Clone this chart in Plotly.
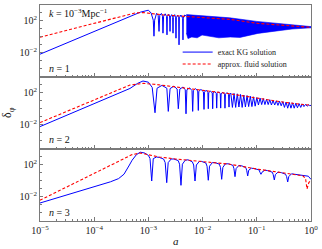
import plotly.graph_objects as go
from plotly.subplots import make_subplots

# ---------------- data (log10 a, log10 delta) ----------------
# panel n=1
n1_kg_loga = [-5.0, -4.0, -3.3, -3.15, -3.0, -2.95, -2.91, -2.897, -2.885, -2.85, -2.82, -2.804, -2.79,
              -2.76, -2.74, -2.731, -2.72, -2.69, -2.665, -2.657, -2.65, -2.625, -2.607, -2.601, -2.595,
              -2.57, -2.552, -2.546, -2.54, -2.515, -2.497, -2.491, -2.485, -2.46, -2.441, -2.435, -2.429,
              -2.40, -2.368, -2.362, -2.356, -2.33, -2.30]
n1_kg_logd = [-2.25, 0.55, 2.5, 3.0, 3.25, 2.9, 2.0, 0.0, 2.0, 2.85, 2.6, 0.6, 2.6,
              2.85, 2.5, 0.38, 2.5, 2.8, 2.45, 0.17, 2.45, 2.75, 2.4, 0.6, 2.4,
              2.7, 2.35, 0.38, 2.35, 2.7, 2.3, -0.25, 2.3, 2.65, 2.3, -1.08, 2.3,
              2.65, 2.25, -0.46, 2.25, 2.65, 2.5]
# envelope of the densely oscillating part (upper edge then lower edge back)
n1_band_loga = [-2.30, -2.1, -1.9, -1.5, -1.0, -0.35, 0.0,
                0.0, -0.35, -0.7, -0.98, -1.31, -1.49, -1.7, -1.86, -2.01, -2.10, -2.20, -2.27, -2.30]
n1_band_logd = [2.7, 2.6, 2.5, 2.3, 1.85, 1.4, 1.2,
                1.05, 0.9, 0.6, 0.35, -0.15, -0.1, -0.2, -0.05, 0.15, -0.2, -0.1, -0.3, 0.4]
n1_fl_loga = [-5.0, -3.25, -3.1, -2.73, -2.10, -1.49, -0.98, -0.35, 0.0]
n1_fl_logd = [-0.12, 2.9, 2.95, 2.67, 2.37, 2.1, 1.6, 1.25, 1.1]

# panel n=2
n2_kg_loga = [-5.0, -4.0, -3.34, -3.2, -3.1, -3.0, -2.93, -2.878, -2.84, -2.75, -2.66, -2.633, -2.60,
              -2.53, -2.47, -2.448, -2.42, -2.36, -2.32, -2.306, -2.29, -2.24, -2.195, -2.183, -2.17,
              -2.13, -2.09, -2.079, -2.07, -2.03, -1.985, -1.974, -1.965, -1.935, -1.903, -1.895, -1.887,
              -1.855, -1.822, -1.814, -1.806, -1.777, -1.748, -1.740, -1.732, -1.703, -1.674, -1.666,
              -1.658, -1.627, -1.595, -1.587, -1.579, -1.55, -1.521, -1.513, -1.505,
              -1.48, -1.45, -1.42, -1.39, -1.36, -1.33, -1.30, -1.27, -1.24, -1.21, -1.18, -1.15,
              -1.12, -1.09, -1.06, -1.03, -1.00, -0.97, -0.94, -0.91, -0.88, -0.85, -0.82, -0.79,
              -0.76, -0.73, -0.70, -0.67, -0.64, -0.61, -0.58, -0.55, -0.52, -0.49, -0.46, -0.43,
              -0.40, -0.37, -0.34, -0.31, -0.28, -0.25, -0.22, -0.19, -0.16, -0.13, -0.10, -0.07,
              -0.04, -0.02, 0.0]
n2_kg_logd = [-2.3, 0.6, 2.47, 3.1, 3.4, 3.25, 2.6, -0.57, 2.5, 2.85, 2.5, -0.4, 2.45,
              2.75, 2.4, -0.07, 2.4, 2.65, 2.3, -0.7, 2.3, 2.55, 2.2, -0.4, 2.2,
              2.45, 2.15, -0.28, 2.1, 2.35, 2.05, -0.15, 2.0, 2.25, 2.0, -0.07, 1.95,
              2.15, 1.9, -0.07, 1.9, 2.1, 1.85, 0.01, 1.85, 2.05, 1.8, 0.01,
              1.8, 2.0, 1.75, 0.0, 1.75, 1.95, 1.7, 0.14, 1.7,
              1.9, 0.1, 1.85, 0.1, 1.8, 0.15, 1.72, 0.1, 1.65, 0.15, 1.58, 0.2,
              1.5, 0.2, 1.42, 0.25, 1.33, 0.4, 1.27, 0.45, 1.2, 0.45, 1.12, 0.45,
              1.06, 0.4, 0.98, 0.4, 0.92, 0.35, 0.87, 0.3, 0.82, 0.1, 0.77, 0.0,
              0.72, 0.0, 0.67, 0.0, 0.62, 0.05, 0.57, 0.1, 0.53, 0.2, 0.48, 0.25,
              0.44, 0.3, 0.38]
n2_fl_loga = [-5.0, -3.34, -3.1, -2.9, -2.6, -2.2, -1.9, -1.5, -1.0, -0.5, -0.2, 0.0]
n2_fl_logd = [-1.8, 2.9, 3.1, 3.0, 2.75, 2.45, 2.15, 1.8, 1.25, 0.75, 0.5, 0.38]

# panel n=3
n3_kg_loga = [-5.0, -4.0, -3.7, -3.55, -3.45, -3.35, -3.3, -3.22, -3.15, -3.07, -3.0, -2.97, -2.939,
              -2.91, -2.85, -2.80, -2.72, -2.69, -2.662, -2.635, -2.58, -2.53, -2.45, -2.425, -2.399,
              -2.373, -2.32, -2.27, -2.19, -2.165, -2.14, -2.115, -2.06, -2.02, -1.94, -1.918, -1.895,
              -1.872, -1.82, -1.77, -1.69, -1.67, -1.648, -1.626, -1.58, -1.52, -1.44, -1.422, -1.402,
              -1.382, -1.33, -1.28, -1.205, -1.187, -1.168, -1.149, -1.10, -1.05, -0.96, -0.942, -0.923,
              -0.904, -0.85, -0.80, -0.715, -0.697, -0.677, -0.657, -0.61, -0.55, -0.47, -0.45, -0.43,
              -0.41, -0.36, -0.3, -0.15, -0.05, 0.0]
n3_kg_logd = [-2.85, -0.85, -0.2, 0.2, 0.75, 1.9, 2.5, 3.2, 3.5, 3.4, 3.1, 2.7, -0.1,
              2.7, 2.9, 2.85, 2.65, 2.2, -0.31, 2.2, 2.65, 2.65, 2.45, 2.0, -0.64,
              2.0, 2.5, 2.55, 2.3, 1.9, -0.1, 1.9, 2.35, 2.35, 2.15, 1.75, -0.01,
              1.75, 2.2, 2.2, 2.0, 1.6, 0.11, 1.6, 2.05, 2.05, 1.85, 1.45, 0.44,
              1.45, 1.85, 1.8, 1.6, 1.25, 0.53, 1.25, 1.5, 1.45, 1.3, 1.0, 0.74,
              1.0, 1.25, 1.2, 1.0, 0.7, 0.03, 0.7, 1.0, 0.95, 0.75, 0.45, -0.22,
              0.45, 0.8, 0.74, 0.6, 0.5, 0.1]
n3_fl_loga = [-5.0, -3.52, -3.3, -3.15, -3.0, -2.8, -2.5, -2.0, -1.5, -1.0, -0.5, -0.15, -0.10, -0.074, -0.04, 0.0]
n3_fl_logd = [-2.5, 2.5, 3.2, 3.4, 3.2, 2.9, 2.65, 2.35, 2.0, 1.4, 0.95, 0.55, 0.2, -1.1, -0.3, 0.0]

# ---------------- text ----------------
k_label = "<i>k</i> = 10<sup>−3</sup>Mpc<sup>−1</sup>"
n_labels = ["<i>n</i> = 1", "<i>n</i> = 2", "<i>n</i> = 3"]
kg_name = "exact KG solution"
fluid_name = "approx. fluid solution"
x_tick_vals = [1e-5, 1e-4, 1e-3, 1e-2, 1e-1, 1e0]
x_tick_text = ["10<sup>−5</sup>", "10<sup>−4</sup>", "10<sup>−3</sup>", "10<sup>−2</sup>", "10<sup>−1</sup>", "10<sup>0</sup>"]
y_tick_vals = [1e-2, 1e2]
y_tick_text = ["10<sup>−2</sup>", "10<sup>2</sup>"]

FONT = "Liberation Serif"
BLUE = "#0000ff"
RED = "#ff0000"
FRAME = "#7a7a7a"


def pw(v):
    return [10 ** t for t in v]


fig = make_subplots(rows=3, cols=1, shared_xaxes=True, vertical_spacing=0)

panels = [
    (n1_kg_loga, n1_kg_logd, n1_fl_loga, n1_fl_logd),
    (n2_kg_loga, n2_kg_logd, n2_fl_loga, n2_fl_logd),
    (n3_kg_loga, n3_kg_logd, n3_fl_loga, n3_fl_logd),
]

# band for panel 1
fig.add_trace(go.Scatter(x=pw(n1_band_loga), y=pw(n1_band_logd), mode="lines", fill="toself",
                         fillcolor=BLUE, line=dict(color=BLUE, width=0.6), showlegend=False,
                         hoverinfo="skip"), row=1, col=1)

for i, (kx, ky, fx, fy) in enumerate(panels):
    r = i + 1
    fig.add_trace(go.Scatter(x=pw(kx), y=pw(ky), mode="lines", name=kg_name, legend="legend",
                             line=dict(color=BLUE, width=1), showlegend=(i == 0)), row=r, col=1)
for i, (kx, ky, fx, fy) in enumerate(panels):
    r = i + 1
    fig.add_trace(go.Scatter(x=pw(fx), y=pw(fy), mode="lines", name=fluid_name, legend="legend2",
                             line=dict(color=RED, width=1.1, dash="3px,2px"), showlegend=(i == 0)),
                  row=r, col=1)

minor_x = [m * 10 ** e for e in range(-5, 0) for m in range(2, 10)]
for r in range(1, 4):
    fig.update_xaxes(type="log", range=[-5, 0], row=r, col=1, automargin=False,
                     showline=True, linecolor=FRAME, linewidth=1, mirror=True,
                     ticks="inside", ticklen=4, tickcolor=FRAME, tickvals=x_tick_vals,
                     ticktext=x_tick_text, showticklabels=(r == 3), showgrid=False, zeroline=False,
                     minor=dict(ticks="inside", ticklen=2, tickcolor=FRAME, tickvals=minor_x, showgrid=False),
                     tickfont=dict(family=FONT, size=10, color="#222"))
    fig.update_yaxes(type="log", range=[-5.1, 3.9], row=r, col=1, automargin=False,
                     showline=True, linecolor=FRAME, linewidth=1, mirror=True,
                     ticks="inside", ticklen=3, tickcolor=FRAME, tickvals=y_tick_vals,
                     ticktext=y_tick_text, showgrid=False, zeroline=False,
                     minor=dict(ticks="inside", ticklen=2, tickcolor=FRAME,
                                tickvals=[10 ** e for e in range(-5, 4)], showgrid=False),
                     tickfont=dict(family=FONT, size=10, color="#222"))

ann = [
    dict(text=k_label, xref="paper", yref="paper", x=0.025, y=0.965, xanchor="left", yanchor="middle",
         showarrow=False, font=dict(family=FONT, size=10, color="#111")),
    dict(text=n_labels[0], xref="paper", yref="paper", x=0.025, y=0.706, xanchor="left", yanchor="middle",
         showarrow=False, font=dict(family=FONT, size=10, color="#111")),
    dict(text=n_labels[1], xref="paper", yref="paper", x=0.025, y=0.377, xanchor="left", yanchor="middle",
         showarrow=False, font=dict(family=FONT, size=10, color="#111")),
    dict(text=n_labels[2], xref="paper", yref="paper", x=0.025, y=0.04, xanchor="left", yanchor="middle",
         showarrow=False, font=dict(family=FONT, size=10, color="#111")),
    dict(text="δ<sub>φ</sub>", xref="paper", yref="paper", x=-0.118, y=0.5, xanchor="center",
         yanchor="middle", textangle=-90, showarrow=False, font=dict(family=FONT, size=12, color="#111")),
    dict(text="<i>a</i>", xref="paper", yref="paper", x=0.5, y=-0.092, xanchor="center", yanchor="middle",
         showarrow=False, font=dict(family=FONT, size=11, color="#111")),
]

legend_common = dict(xanchor="left", yanchor="middle", bgcolor="rgba(0,0,0,0)",
                     font=dict(family=FONT, size=8, color="#222"), itemwidth=30)

fig.update_layout(
    width=322, height=249,
    margin=dict(l=40, r=11, t=5, b=28, autoexpand=False),
    paper_bgcolor="white", plot_bgcolor="white",
    annotations=ann,
    legend=dict(x=0.508, y=0.782, **legend_common),
    legend2=dict(x=0.508, y=0.727, **legend_common),
    font=dict(family=FONT),
)

fig.write_html("out.html", config={"displayModeBar": False},
               post_script="document.body.style.margin='0px';")
